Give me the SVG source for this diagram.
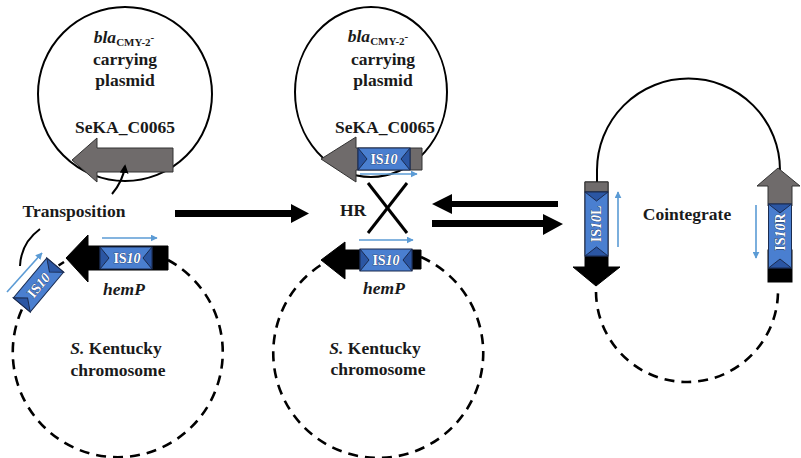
<svg xmlns="http://www.w3.org/2000/svg" width="801" height="458" viewBox="0 0 801 458">
<defs>
<style>
.t{font-family:"Liberation Serif","Times New Roman",serif;font-weight:bold;font-size:17.5px;fill:#1a1a1a}
.ist{font-family:"Liberation Serif","Times New Roman",serif;font-weight:bold;font-size:14px;fill:#ffffff;stroke:#1b2b4f;stroke-width:0.6;paint-order:stroke}
.solid{fill:none;stroke:#000;stroke-width:2}
.dash{fill:none;stroke:#000;stroke-width:2.6;stroke-dasharray:10 7}
.gray{fill:#6f6b6b;stroke:#333;stroke-width:1}
.blk{fill:#000;stroke:#000;stroke-width:1}
.isbox{fill:#4a7fd0;stroke:#1b2b4f;stroke-width:1}
.ischev{fill:#2b56a3;stroke:#1b2b4f;stroke-width:1}
.lb{fill:none;stroke:#5b9bd5;stroke-width:1.6}
</style>
<marker id="lbh" viewBox="0 0 10 10" refX="9" refY="5" markerWidth="7" markerHeight="7" markerUnits="userSpaceOnUse" orient="auto">
<path d="M0,0 L10,5 L0,10 z" fill="#5b9bd5"/>
</marker>
<marker id="bkh" viewBox="0 0 10 10" refX="8" refY="5" markerWidth="9" markerHeight="9" markerUnits="userSpaceOnUse" orient="auto">
<path d="M0,0 L10,5 L0,10 z" fill="#000"/>
</marker>
<g id="ish">
<rect class="isbox" x="0" y="0" width="52" height="22"/>
<polygon class="ischev" points="0,0 9,11 0,22"/>
<polygon class="ischev" points="52,0 43,11 52,22"/>
</g>
<g id="isv">
<rect class="isbox" x="0" y="0" width="23" height="64"/>
<polygon class="ischev" points="0,0 11.5,9 23,0"/>
<polygon class="ischev" points="0,64 11.5,55 23,64"/>
</g>
</defs>
<rect width="801" height="458" fill="#ffffff"/>

<g id="left-plasmid">
<ellipse class="solid" cx="125" cy="94" rx="87" ry="87"/>
<text class="t" x="124" y="43" text-anchor="middle"><tspan font-style="italic">bla</tspan><tspan font-size="11" dy="3">CMY-2</tspan><tspan font-size="11" dy="-5">-</tspan></text>
<text class="t" x="125" y="65" text-anchor="middle">carrying</text>
<text class="t" x="125" y="86" text-anchor="middle">plasmid</text>
<text class="t" x="125" y="133" text-anchor="middle">SeKA_C0065</text>
<polygon class="gray" points="72,160 97,138 97,148 173,148 173,172 97,172 97,182"/>
</g>

<g id="left-chromosome">
<path class="dash" d="M168,260 A105,105 0 1 1 64,262"/>
<polygon class="blk" points="66,258 88,235 88,246 168,246 168,270 88,270 88,282"/>
<use href="#ish" x="100" y="247"/>
<text class="ist" x="127" y="263" text-anchor="middle">IS<tspan font-style="italic">10</tspan></text>
<line class="lb" x1="102" y1="238" x2="157" y2="238" marker-end="url(#lbh)"/>
<text class="t" x="124" y="295" text-anchor="middle" font-style="italic">hemP</text>
<text class="t" x="116" y="354" text-anchor="middle"><tspan font-style="italic">S.</tspan> Kentucky</text>
<text class="t" x="118" y="376" text-anchor="middle">chromosome</text>
</g>

<g id="transposed-is10">
<g transform="translate(38.5,285) rotate(-50)">
<use href="#ish" x="-26" y="-11"/>
<text class="ist" x="0" y="5" text-anchor="middle">IS<tspan font-style="italic">10</tspan></text>
</g>
<line class="lb" x1="7" y1="292" x2="42" y2="253" marker-end="url(#lbh)"/>
</g>

<g id="transposition-label">
<text class="t" x="74" y="217" text-anchor="middle">Transposition</text>
</g>

<g id="middle-plasmid">
<ellipse class="solid" cx="371" cy="92" rx="76" ry="85"/>
<text class="t" x="378" y="42" text-anchor="middle"><tspan font-style="italic">bla</tspan><tspan font-size="11" dy="3">CMY-2</tspan><tspan font-size="11" dy="-5">-</tspan></text>
<text class="t" x="383" y="65" text-anchor="middle">carrying</text>
<text class="t" x="383" y="86" text-anchor="middle">plasmid</text>
<text class="t" x="385" y="133" text-anchor="middle">SeKA_C0065</text>
<polygon class="gray" points="321,159 356,137 356,148 422,148 422,170 356,170 356,182"/>
<use href="#ish" x="358" y="148"/>
<text class="ist" x="384" y="164" text-anchor="middle">IS<tspan font-style="italic">10</tspan></text>
<line class="lb" x1="360" y1="174" x2="417" y2="174" marker-end="url(#lbh)"/>
</g>

<g id="middle-chromosome">
<path class="dash" d="M421,257 A105,105 0 1 1 324,263"/>
<polygon class="blk" points="321,260 345,242 345,250 421,250 421,269 345,269 345,279"/>
<use href="#ish" x="360" y="249" transform="translate(0,0)"/>
<text class="ist" x="386" y="265" text-anchor="middle">IS<tspan font-style="italic">10</tspan></text>
<line class="lb" x1="359" y1="240" x2="413" y2="240" marker-end="url(#lbh)"/>
<text class="t" x="384" y="294" text-anchor="middle" font-style="italic">hemP</text>
<text class="t" x="375" y="354" text-anchor="middle"><tspan font-style="italic">S.</tspan> Kentucky</text>
<text class="t" x="378" y="375" text-anchor="middle">chromosome</text>
</g>

<g id="hr">
<text class="t" x="353" y="216" text-anchor="middle">HR</text>
<line x1="368" y1="183" x2="407" y2="233" stroke="#000" stroke-width="3"/>
<line x1="407" y1="183" x2="368" y2="233" stroke="#000" stroke-width="3"/>
</g>

<g id="cointegrate">
<path class="solid" d="M597,183 L597,170 A91,91 0 0 1 780,170"/>
<path class="dash" d="M596,292 A91,91 0 0 0 778,290"/>
<polygon class="blk" points="585,182 608,182 608,267 620,267 596,286 573,267 585,267"/>
<rect class="gray" x="585" y="182" width="23" height="10"/>
<use href="#isv" x="585" y="192"/>
<text class="ist" transform="translate(601,224) rotate(-90)" x="0" y="0" text-anchor="middle">IS<tspan font-style="italic">10</tspan>L</text>
<line class="lb" x1="618" y1="247" x2="618" y2="192" marker-end="url(#lbh)"/>
<rect class="blk" x="768" y="250" width="24" height="32"/>
<polygon class="gray" points="778,168 800,186 792,186 792,206 768,206 768,186 757,186"/>
<use href="#isv" x="768.5" y="204" transform="translate(0,0)"/>
<text class="ist" transform="translate(785,232) rotate(-90)" x="0" y="0" text-anchor="middle">IS<tspan font-style="italic">10</tspan>R</text>
<line class="lb" x1="756" y1="205" x2="756" y2="258" marker-end="url(#lbh)"/>
<text class="t" x="687" y="220" text-anchor="middle">Cointegrate</text>
</g>

<g id="connectors">
<polygon fill="#000" points="175,210 291,210 291,204 309,213.5 291,223 291,217 175,217"/>
<polygon fill="#000" points="558,201 452,201 452,194 432,204 452,214 452,207 558,207"/>
<polygon fill="#000" points="432,220 543,220 543,214 563,224 543,235 543,227 432,227"/>
<path d="M112,194 Q123,181 125,166" fill="none" stroke="#000" stroke-width="2" marker-end="url(#bkh)"/>
<path d="M40,229 Q21,243 20,266" fill="none" stroke="#000" stroke-width="2"/>
</g>
</svg>
